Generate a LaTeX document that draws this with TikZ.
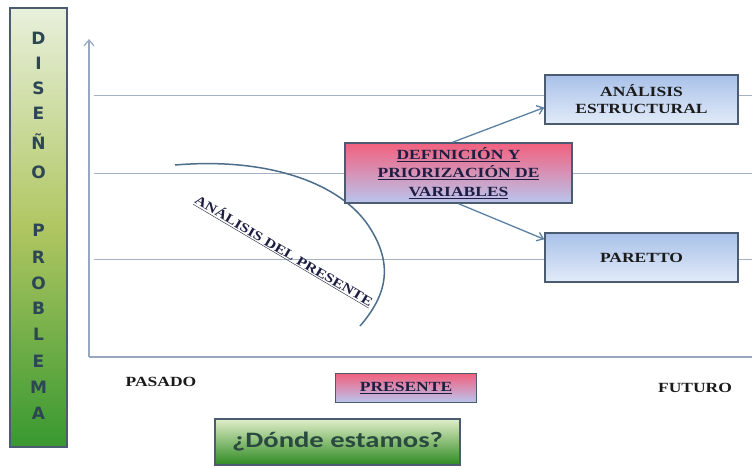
\documentclass[tikz,border=0pt]{standalone}
\usepackage{fontspec}
\newfontfamily\wserif{Liberation Serif}[FakeStretch=1.25]
\newfontfamily\barfont{DejaVu Sans}
\newfontfamily\calib{Carlito}[FakeStretch=1.3]
\usetikzlibrary{arrows.meta}
\definecolor{gridc}{HTML}{A4B2C4}
\definecolor{axisc}{HTML}{98A8C0}
\definecolor{boxborder}{HTML}{4C5C70}
\definecolor{bluetop}{HTML}{A9C1E9}
\definecolor{bluebot}{HTML}{E2EBF8}
\definecolor{pinktop}{HTML}{F2607E}
\definecolor{pinkbot}{HTML}{B9C5EE}
\definecolor{arrc}{HTML}{5A80A4}
\definecolor{navy}{HTML}{1E1E42}
\definecolor{inkc}{HTML}{1A1A1A}
\definecolor{bartop}{HTML}{E8F0DC}
\definecolor{barmid}{HTML}{B0C662}
\definecolor{barbot}{HTML}{389830}
\definecolor{barletter}{HTML}{2C4654}
\definecolor{greentop}{HTML}{E0EEC8}
\definecolor{greenmid}{HTML}{A8D070}
\definecolor{greenbot}{HTML}{2E8A22}
\definecolor{greentext}{HTML}{2A4A40}
\tikzset{
  gridline/.style={draw=gridc, line width=1pt},
  axisline/.style={draw=axisc, line width=1.2pt},
  bluebox/.style={draw=boxborder, line width=1.4pt, top color=bluetop, bottom color=bluebot,
    minimum width=193pt, minimum height=49pt, align=center, text=inkc,
    font=\wserif\bfseries\fontsize{14}{17}\selectfont, inner sep=0pt},
  pinkbox/.style={draw=boxborder, line width=1.4pt, top color=pinktop, bottom color=pinkbot,
    align=center, text=navy, inner sep=0pt,
    font=\wserif\bfseries\fontsize{14}{18.5}\selectfont},
  conn/.style={draw=arrc, line width=1.3pt, -{Straight Barb[length=6pt,width=9pt]}},
  plainlabel/.style={text=inkc, font=\wserif\bfseries\fontsize{14}{17}\selectfont, inner sep=0pt},
  barletterstyle/.style={text=barletter, font=\barfont\bfseries\fontsize{17}{19}\selectfont, inner sep=0pt},
}
\begin{document}
\begin{tikzpicture}[x=1pt,y=-1pt]
\path[use as bounding box] (0,0) rectangle (752,470);
% left bar
\node[draw=boxborder, line width=1.4pt, minimum width=57pt, minimum height=439pt,
  top color=bartop, bottom color=barbot, middle color=barmid, inner sep=0pt] (bar) at (38.5,227.5) {};
\foreach \ch/\yy [count=\i] in {D/38,I/63,S/88,E/113,Ñ/142,O/172,P/230,R/257,O/283,B/308,L/334,E/361,M/387,A/413}
  \node[barletterstyle] (let\i) at (38.5,\yy) {\ch};
% grid lines
\coordinate (g1a) at (94,96);  \coordinate (g1b) at (752,96);
\coordinate (g2a) at (94,174); \coordinate (g2b) at (752,174);
\coordinate (g3a) at (94,260); \coordinate (g3b) at (752,260);
\draw[gridline] (g1a) -- (g1b);
\draw[gridline] (g2a) -- (g2b);
\draw[gridline] (g3a) -- (g3b);
% axes
\coordinate (orig) at (89,357);
\coordinate (ytop) at (89,39);
\coordinate (xend) at (752,357);
\draw[axisline, -{Straight Barb[length=6pt,width=10pt]}] (orig) -- (ytop);
\draw[axisline] (orig) -- (xend);
% arc
\coordinate (c0) at (175,165);
\coordinate (c1) at (368,225);
\coordinate (c2) at (360,326);
\draw[draw=arrc!85!black, line width=1.5pt] (c0) .. controls (270,157) and (340,184) .. (c1)
   .. controls (395,265) and (386,296) .. (c2);
% boxes
\node[bluebox] (ae) at (641.5,99.5) {ANÁLISIS\\ESTRUCTURAL};
\node[bluebox] (par) at (641.5,257.5) {PARETTO};
\node[pinkbox, minimum width=227pt, minimum height=60pt] (def) at (458.5,173)
  {\underline{DEFINICIÓN Y}\\\underline{PRIORIZACIÓN DE}\\\underline{VARIABLES}};
% connectors
\draw[conn] ([xshift=-6pt]def.north) -- ([yshift=-8pt]ae.west);
\draw[conn] (def.south) -- ([yshift=-7pt]par.north west);
% rotated label
\node[plainlabel, text=navy, rotate=-30.6, font=\wserif\bfseries\fontsize{13}{15}\selectfont] (adp) at (284,251) {\underline{ANÁLISIS DEL PRESENTE}};
% bottom labels
\node[plainlabel] (pas) at (161,381.5) {PASADO};
\node[plainlabel] (fut) at (695,388) {FUTURO};
\node[pinkbox, minimum width=141pt, minimum height=29pt] (pres) at (406,388) {\underline{PRESENTE}};
% green box
\node[draw=boxborder, line width=1.4pt, minimum width=245pt, minimum height=46pt,
  top color=greentop, middle color=greenmid, bottom color=greenbot, inner sep=0pt,
  text=greentext, font=\calib\bfseries\fontsize{22}{24}\selectfont] (where) at (337.5,442) {¿Dónde estamos?};
\end{tikzpicture}
\end{document}
